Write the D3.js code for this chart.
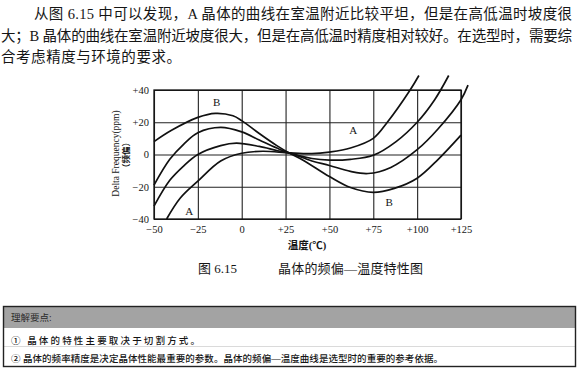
<!DOCTYPE html>
<html>
<head>
<meta charset="utf-8">
<script src="https://cdn.jsdelivr.net/npm/d3@7"></script>
<style>
body { margin: 0; background: #fff; }
svg { display: block; }
.serif { font-family: "Liberation Serif", "Noto Sans CJK SC", serif; }
.cjk { font-family: "Liberation Serif", "Noto Sans CJK SC", sans-serif; }
</style>
</head>
<body>
<svg id="page" width="578" height="369"></svg>
<script>
// tick values
var tempTicks = [-50, -25, 0, 25, 50, 75, 100, 125];
var ppmTicks = [-40, -20, 0, 20, 40];

// four crystal curves, [temperature, ppm]
// curveB is the steep one (top on the left), curveA the flat one
var curveB = [[-50, 8], [-40, 15], [-25, 23], [-15, 25.5], [-5, 24], [0, 21], [10, 13], [20, 5.5], [27, 1],
              [35, -3.5], [50, -13.7], [62, -20.5], [75, -23.5], [87, -21], [100, -14.7], [112, -3], [125, 12]];
var curve2 = [[-50, -19], [-41, -3], [-33, 6.5], [-25, 13.5], [-12, 16.8], [0, 14], [10, 9], [20, 4], [27, 1],
              [40, -2.5], [50, -3.5], [62, -3], [75, -0.5], [88, 8], [100, 20], [110, 34], [118, 49]];
var curve3 = [[-50, -32], [-41, -16], [-33, -7], [-25, 0], [-12, 5.5], [-3, 7], [10, 5], [20, 2.5], [27, 1],
              [40, -4], [50, -6.8], [62, -10.5], [72, -11.8], [85, -8], [100, 3], [112, 16], [125, 34], [129, 43]];
var curveA = [[-42.8, -40], [-35, -27], [-25, -16.5], [-12, -4], [0, 0.8], [12, 2], [27, 1], [40, 0.5],
              [50, 1.5], [62, 4], [75, 10], [83, 20], [96, 40], [101, 49]];

var curveLabels = [["B", -14.3, 32.4], ["A", -29.9, -35], ["A", 63.6, 15.2], ["B", 84.1, -29.6]];

var paraLines = [
  "从图 6.15 中可以发现，A 晶体的曲线在室温附近比较平坦，但是在高低温时坡度很",
  "大；B 晶体的曲线在室温附近坡度很大，但是在高低温时精度相对较好。在选型时，需要综",
  "合考虑精度与环境的要求。"
];
var captionNum = "图 6.15";
var captionText = "晶体的频偏—温度特性图";
var boxTitle = "理解要点:";
var boxLines = [
  "① 晶体的特性主要取决于切割方式。",
  "② 晶体的频率精度是决定晶体性能最重要的参数。晶体的频偏—温度曲线是选型时的重要的参考依据。"
];

var svg = d3.select("#page");
var ink = "#151515";

// paragraph above the figure
var paraX = [34, 1, 1];
var paraLen = [538, 571, 180];
var paraY = [18.5, 40.5, 62];
svg.selectAll("text.para")
    .data(paraLines)
    .enter()
    .append("text")
    .attr("class", "para cjk")
    .attr("x", function(d, i) { return paraX[i]; })
    .attr("y", function(d, i) { return paraY[i]; })
    .attr("textLength", function(d, i) { return paraLen[i]; })
    .attr("lengthAdjust", "spacing")
    .style("font-size", "14.5px")
    .style("fill", ink)
    .text(function(d) { return d; });

// chart
var plotL = 154, plotR = 461, plotT = 90, plotB = 219;
var x = d3.scaleLinear().domain([-50, 125]).range([plotL, plotR]);
var y = d3.scaleLinear().domain([-40, 40]).range([plotB, plotT]);

var fmt = function(v) { return v > 0 ? "+" + v : (v < 0 ? "\u2212" + Math.abs(v) : "0"); };

var gx = svg.append("g")
    .attr("transform", "translate(0," + plotB + ")")
    .call(d3.axisBottom(x).tickValues(tempTicks).tickSize(-(plotB - plotT)).tickPadding(7).tickFormat(fmt));
var gy = svg.append("g")
    .attr("transform", "translate(" + plotL + ",0)")
    .call(d3.axisLeft(y).tickValues(ppmTicks).tickSize(-(plotR - plotL)).tickPadding(5).tickFormat(fmt));

[gx, gy].forEach(function(g) {
    g.select(".domain").remove();
    g.selectAll(".tick line").attr("stroke", "#222").attr("stroke-width", 1.1);
    g.selectAll(".tick text")
        .attr("class", "serif")
        .style("font-size", "10.5px")
        .style("fill", ink);
});

svg.append("rect")
    .attr("x", plotL).attr("y", plotT)
    .attr("width", plotR - plotL).attr("height", plotB - plotT)
    .attr("fill", "none").attr("stroke", "#111").attr("stroke-width", 1.3);

var line = d3.line()
    .x(function(d) { return x(d[0]); })
    .y(function(d) { return y(d[1]); })
    .curve(d3.curveCatmullRom.alpha(0.5));

svg.selectAll("path.crystal")
    .data([curveB, curve2, curve3, curveA])
    .enter()
    .append("path")
    .attr("class", "crystal")
    .attr("d", line)
    .attr("fill", "none")
    .attr("stroke", "#111")
    .attr("stroke-width", 1.7);

svg.selectAll("text.clabel")
    .data(curveLabels)
    .enter()
    .append("text")
    .attr("class", "clabel serif")
    .attr("x", function(d) { return x(d[1]); })
    .attr("y", function(d) { return y(d[2]); })
    .attr("text-anchor", "middle")
    .attr("dominant-baseline", "central")
    .style("font-size", "11px")
    .style("fill", ink)
    .text(function(d) { return d[0]; });

// axis titles
svg.append("text")
    .attr("class", "cjk")
    .attr("x", 307).attr("y", 248.5)
    .attr("text-anchor", "middle")
    .style("font-size", "10.5px")
    .style("font-weight", "bold")
    .style("fill", ink)
    .text("温度(℃)");

svg.append("text")
    .attr("class", "serif")
    .attr("transform", "translate(115.5,153.5) rotate(-90)")
    .attr("text-anchor", "middle")
    .attr("dominant-baseline", "central")
    .style("font-size", "9.5px")
    .style("fill", ink)
    .text("Delta Frequency(ppm)");

svg.append("text")
    .attr("class", "cjk")
    .attr("transform", "translate(125.5,155) rotate(-90)")
    .attr("text-anchor", "middle")
    .attr("dominant-baseline", "central")
    .style("font-size", "8.5px")
    .style("font-weight", "bold")
    .style("fill", ink)
    .text("（频偏）");

// caption
svg.append("text")
    .attr("class", "cjk")
    .attr("x", 198).attr("y", 272.5)
    .style("font-size", "13px")
    .style("fill", ink)
    .text(captionNum);
svg.append("text")
    .attr("class", "cjk")
    .attr("x", 278).attr("y", 272.5)
    .attr("textLength", 145)
    .attr("lengthAdjust", "spacing")
    .style("font-size", "13px")
    .style("fill", ink)
    .text(captionText);

// key points box
var box = svg.append("g");
box.append("rect")
    .attr("x", 3.5).attr("y", 306.5).attr("width", 572).attr("height", 21.5)
    .attr("fill", "#a3a3a3");
box.append("line")
    .attr("x1", 3.5).attr("x2", 575.5).attr("y1", 346.5).attr("y2", 346.5)
    .attr("stroke", "#d0d0d0").attr("stroke-width", 0.8);
box.append("rect")
    .attr("x", 3.5).attr("y", 306.5).attr("width", 572).attr("height", 60)
    .attr("fill", "none").attr("stroke", "#222").attr("stroke-width", 1.4);
box.append("text")
    .attr("class", "cjk")
    .attr("x", 11).attr("y", 321)
    .style("font-size", "9.5px")
    .style("fill", "#2a2a2a")
    .text(boxTitle);

var boxLen = [189, 432];
var boxY = [344, 362];
box.selectAll("text.kp")
    .data(boxLines)
    .enter()
    .append("text")
    .attr("class", "kp cjk")
    .attr("x", 11)
    .attr("y", function(d, i) { return boxY[i]; })
    .attr("textLength", function(d, i) { return boxLen[i]; })
    .attr("lengthAdjust", "spacing")
    .style("font-size", "9.5px")
    .style("font-weight", "500")
    .style("fill", ink)
    .text(function(d) { return d; });
</script>
</body>
</html>
